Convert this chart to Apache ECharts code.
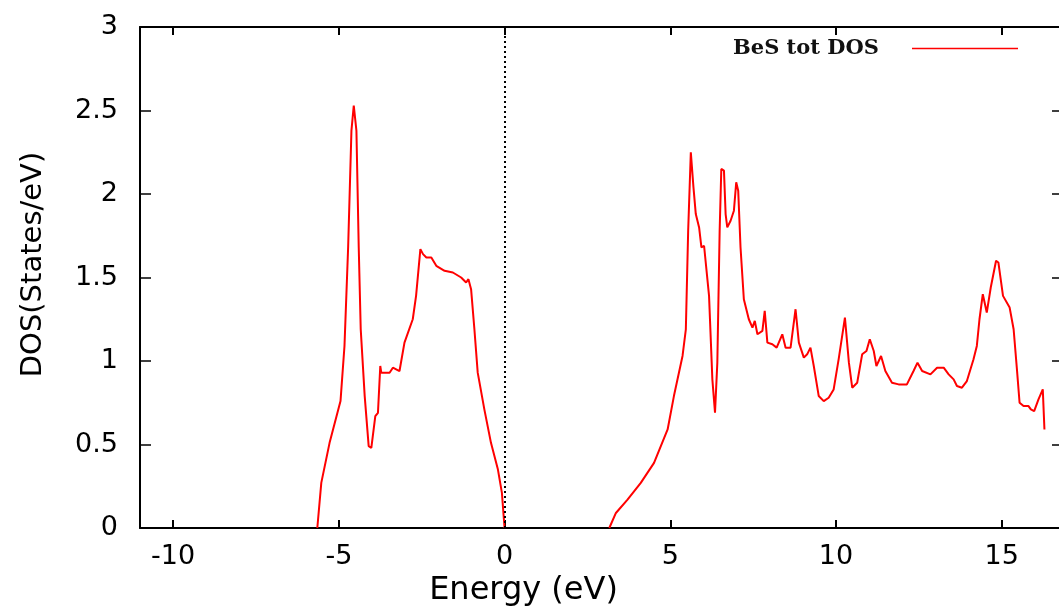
<!DOCTYPE html>
<html>
<head>
<meta charset="utf-8">
<script src="https://cdn.jsdelivr.net/npm/echarts@6/dist/echarts.min.js"></script>
<style>
html, body { margin: 0; padding: 0; background: #fff; overflow: hidden; }
#chart { width: 1070px; height: 606px; }
</style>
</head>
<body>
<div id="chart"></div>
<script>
// tick positions on the energy axis
const xTicks = [-10, -5, 0, 5, 10, 15];

// valence band part (below Fermi level)
const valenceE = [-5.65, -5.53, -5.28, -4.95, -4.83, -4.72, -4.62, -4.55, -4.47, -4.40,
  -4.34, -4.22, -4.10, -4.02, -3.90, -3.82, -3.75, -3.72, -3.47, -3.37,
  -3.17, -3.02, -2.77, -2.67, -2.54, -2.46, -2.36, -2.21, -2.06, -1.81,
  -1.56, -1.31, -1.16, -1.09, -1.01, -0.91, -0.81, -0.61, -0.41, -0.20, -0.08, 0];
const valenceDos = [0, 0.27, 0.51, 0.76, 1.09, 1.68, 2.38, 2.53, 2.38, 1.68,
  1.19, 0.79, 0.49, 0.48, 0.67, 0.69, 0.97, 0.93, 0.93, 0.96,
  0.94, 1.11, 1.25, 1.39, 1.67, 1.64, 1.62, 1.62, 1.57, 1.54,
  1.53, 1.50, 1.47, 1.49, 1.43, 1.19, 0.93, 0.71, 0.51, 0.35, 0.21, 0];

// conduction band part
const conductionE = [3.16, 3.36, 3.71, 4.11, 4.51, 4.92, 5.11, 5.37, 5.47, 5.54,
  5.62, 5.70, 5.77, 5.87, 5.94, 6.02, 6.17, 6.27, 6.35, 6.42,
  6.49, 6.54, 6.62, 6.67, 6.72, 6.82, 6.92, 6.99, 7.05, 7.12,
  7.22, 7.37, 7.48, 7.55, 7.63, 7.78, 7.85, 7.93, 8.08, 8.21,
  8.38, 8.48, 8.63, 8.78, 8.88, 9.03, 9.13, 9.23, 9.33, 9.48,
  9.63, 9.78, 9.93, 10.08, 10.27, 10.39, 10.49, 10.64, 10.79, 10.92,
  11.02, 11.14, 11.22, 11.36, 11.49, 11.69, 11.89, 12.14, 12.34, 12.46,
  12.60, 12.85, 13.05, 13.25, 13.40, 13.55, 13.65, 13.80, 13.95, 14.15,
  14.25, 14.33, 14.43, 14.55, 14.67, 14.83, 14.90, 15.04, 15.24, 15.36,
  15.46, 15.54, 15.66, 15.81, 15.88, 15.98, 16.11, 16.24, 16.29];
const conductionDos = [0, 0.09, 0.17, 0.27, 0.39, 0.59, 0.79, 1.03, 1.19, 1.78,
  2.25, 2.04, 1.88, 1.80, 1.68, 1.69, 1.39, 0.89, 0.69, 0.99,
  1.78, 2.15, 2.14, 1.88, 1.80, 1.84, 1.90, 2.07, 2.02, 1.68,
  1.37, 1.25, 1.20, 1.24, 1.16, 1.18, 1.30, 1.11, 1.10, 1.08,
  1.16, 1.08, 1.08, 1.31, 1.11, 1.02, 1.04, 1.08, 0.97, 0.79,
  0.76, 0.78, 0.83, 1.01, 1.26, 0.99, 0.84, 0.87, 1.04, 1.06,
  1.13, 1.06, 0.97, 1.03, 0.94, 0.87, 0.86, 0.86, 0.94, 0.99,
  0.94, 0.92, 0.96, 0.96, 0.92, 0.89, 0.85, 0.84, 0.88, 1.01,
  1.09, 1.25, 1.40, 1.29, 1.44, 1.60, 1.59, 1.39, 1.32, 1.19,
  0.95, 0.75, 0.73, 0.73, 0.71, 0.70, 0.77, 0.83, 0.59];

function pairs(xs, ys) {
  return xs.map((x, i) => [x, ys[i]]);
}

const chart = echarts.init(document.getElementById('chart'));

const axisLine = { show: true, onZero: false, lineStyle: { color: '#000', width: 2 } };
const labelFont = { fontFamily: 'DejaVu Sans', fontSize: 27, color: '#000' };
const xRange = { min: -11, max: 16.85 };

chart.setOption({
  animation: false,
  backgroundColor: '#fff',
  grid: { left: 140, right: 7, top: 27, bottom: 78, outerBoundsMode: 'none' },
  legend: {
    right: 47,
    top: 33,
    align: 'right',
    icon: 'rect',
    itemWidth: 106,
    itemHeight: 1.5,
    data: ['BeS tot DOS'],
    textStyle: {
      fontFamily: 'DejaVu Serif',
      fontWeight: 'bold',
      fontSize: 21,
      color: '#111',
      padding: [0, 28, 0, 0]
    }
  },
  xAxis: [
    {
      type: 'value',
      position: 'bottom',
      ...xRange,
      axisLine: axisLine,
      axisTick: { inside: true, length: 8, customValues: xTicks, lineStyle: { color: '#000', width: 2 } },
      axisLabel: { customValues: xTicks, margin: 15, ...labelFont },
      splitLine: { show: false },
      name: 'Energy (eV)',
      nameLocation: 'middle',
      nameGap: 42,
      nameTextStyle: { fontFamily: 'DejaVu Sans', fontSize: 32, color: '#000', padding: [0, 156, 0, 0] }
    },
    {
      type: 'value',
      position: 'top',
      ...xRange,
      axisLine: axisLine,
      axisTick: { inside: true, length: 8, customValues: xTicks, lineStyle: { color: '#000', width: 2 } },
      axisLabel: { show: false },
      splitLine: { show: false }
    }
  ],
  yAxis: [
    {
      type: 'value',
      position: 'left',
      min: 0,
      max: 3,
      interval: 0.5,
      axisLine: axisLine,
      axisTick: { inside: true, length: 11, lineStyle: { color: '#000', width: 1.5 } },
      axisLabel: { margin: 22, ...labelFont },
      splitLine: { show: false },
      name: 'DOS(States/eV)',
      nameLocation: 'middle',
      nameGap: 92,
      nameTextStyle: { fontFamily: 'DejaVu Sans', fontSize: 29, color: '#000', padding: [0, 0, 0, 26] }
    },
    {
      type: 'value',
      position: 'right',
      min: 0,
      max: 3,
      interval: 0.5,
      axisLine: axisLine,
      axisTick: { inside: true, length: 11, lineStyle: { color: '#000', width: 1.5 } },
      axisLabel: { show: false },
      splitLine: { show: false }
    }
  ],
  series: [
    {
      name: 'BeS tot DOS',
      type: 'line',
      showSymbol: false,
      color: '#ff0000',
      lineStyle: { width: 2 },
      data: pairs(valenceE, valenceDos),
      markLine: {
        silent: true,
        symbol: 'none',
        label: { show: false },
        lineStyle: { color: '#000', type: [2, 3], width: 2 },
        data: [{ xAxis: 0 }]
      }
    },
    {
      name: 'BeS tot DOS',
      type: 'line',
      showSymbol: false,
      color: '#ff0000',
      lineStyle: { width: 2 },
      data: pairs(conductionE, conductionDos)
    }
  ]
});
</script>
</body>
</html>
